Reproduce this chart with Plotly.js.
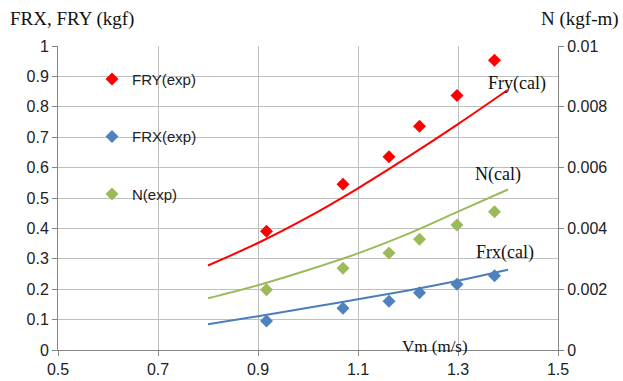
<!DOCTYPE html>
<html><head><meta charset="utf-8">
<script src="https://cdn.plot.ly/plotly-3.0.1.min.js"></script>
<style>html,body{margin:0;padding:0;background:#fff}#chart{width:623px;height:381px}</style>
</head><body><div id="chart"></div>
<script>
// experimental points
const vmExp = [0.917, 1.07, 1.162, 1.223, 1.298, 1.373];
const fryExp = [0.391, 0.545, 0.636, 0.736, 0.837, 0.953];
const frxExp = [0.095, 0.137, 0.160, 0.188, 0.216, 0.244];
const nExp = [0.00198, 0.00269, 0.00319, 0.00364, 0.00411, 0.00455];
// calculated curves
const vmCal = [0.8, 0.9, 1.0, 1.1, 1.2, 1.3, 1.4];
const fryCal = [0.278, 0.352, 0.437, 0.532, 0.635, 0.743, 0.856];
const frxCal = [0.085, 0.111, 0.139, 0.167, 0.196, 0.228, 0.264];
const nCal = [0.0017, 0.00213, 0.00263, 0.00318, 0.00382, 0.00455, 0.00528];
const xTicks = [0.5, 0.7, 0.9, 1.1, 1.3, 1.5];

const RED = '#ff0000', BLUE = '#4a7ebb', GREEN = '#9bbb59';
const sans = 'Liberation Sans, Arial, sans-serif';
const serif = 'Liberation Serif, Times New Roman, serif';

const traces = [
  {x: vmCal, y: fryCal, mode: 'lines', line: {color: RED, width: 2, shape: 'spline'}, showlegend: false, hoverinfo: 'skip'},
  {x: vmCal, y: frxCal, mode: 'lines', line: {color: BLUE, width: 2, shape: 'spline'}, showlegend: false, hoverinfo: 'skip'},
  {x: vmCal, y: nCal, yaxis: 'y2', mode: 'lines', line: {color: GREEN, width: 2, shape: 'spline'}, showlegend: false, hoverinfo: 'skip'},
  {x: vmExp, y: fryExp, name: 'FRY(exp)', mode: 'markers', marker: {symbol: 'diamond', size: 10, color: RED}, legendgroup: 'a'},
  {x: vmExp, y: frxExp, name: 'FRX(exp)', mode: 'markers', marker: {symbol: 'diamond', size: 10, color: '#4f81bd'}, legendgroup: 'b'},
  {x: vmExp, y: nExp, name: 'N(exp)', yaxis: 'y2', mode: 'markers', marker: {symbol: 'diamond', size: 10, color: GREEN}, legendgroup: 'c'}
];

const gridC = '#bfbfbf', axC = '#868686';
const layout = {
  width: 623, height: 381,
  margin: {l: 58, r: 65, t: 46, b: 31},
  paper_bgcolor: '#fff', plot_bgcolor: '#fff',
  font: {family: sans, size: 16, color: '#222'},
  showlegend: true,
  legend: {x: 0.068, y: 0.945, xanchor: 'left', yanchor: 'top', bgcolor: 'rgba(0,0,0,0)',
           font: {family: sans, size: 15, color: '#222'}, tracegroupgap: 35, traceorder: 'grouped'},
  xaxis: {range: [0.5, 1.5], tickvals: xTicks, ticktext: xTicks.map(v => v.toFixed(1)),
          showgrid: true, gridcolor: gridC, gridwidth: 1, showline: true, linecolor: axC, linewidth: 1,
          ticks: 'outside', ticklen: 5, tickcolor: axC, zeroline: false, fixedrange: true},
  yaxis: {range: [0, 1], dtick: 0.1, showgrid: true, gridcolor: gridC, gridwidth: 1,
          showline: true, linecolor: axC, ticks: 'outside', ticklen: 5, tickcolor: axC, zeroline: false},
  yaxis2: {range: [0, 0.01], dtick: 0.002, overlaying: 'y', side: 'right', showgrid: false,
           showline: true, linecolor: axC, ticks: 'outside', ticklen: 5, tickcolor: axC, zeroline: false},
  annotations: [
    {text: 'FRX, FRY (kgf)', xref: 'paper', yref: 'paper', x: -0.1, y: 1.09, xanchor: 'left', yanchor: 'middle', showarrow: false, font: {family: serif, size: 19, color: '#111'}},
    {text: 'N (kgf-m)', xref: 'paper', yref: 'paper', x: 1.125, y: 1.09, xanchor: 'right', yanchor: 'middle', showarrow: false, font: {family: serif, size: 19, color: '#111'}},
    {text: 'Fry(cal)', x: 1.417, y: 0.877, showarrow: false, font: {family: serif, size: 18, color: '#111'}},
    {text: 'N(cal)', x: 1.379, y: 0.577, showarrow: false, font: {family: serif, size: 18, color: '#111'}},
    {text: 'Frx(cal)', x: 1.393, y: 0.321, showarrow: false, font: {family: serif, size: 18, color: '#111'}},
    {text: 'Vm (m/s)', x: 1.253, y: 0.012, showarrow: false, font: {family: serif, size: 17, color: '#111'}}
  ]
};
Plotly.newPlot('chart', traces, layout, {staticPlot: true, displayModeBar: false});
</script></body></html>
